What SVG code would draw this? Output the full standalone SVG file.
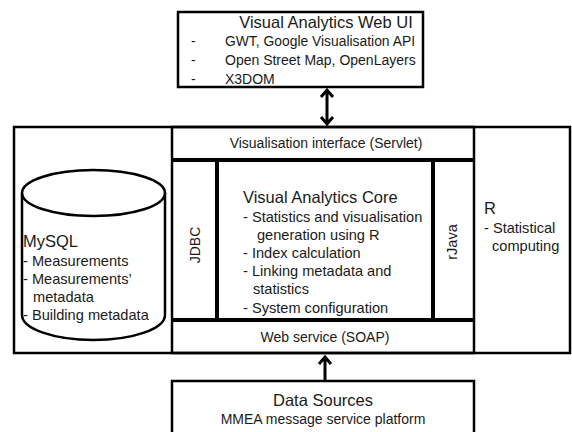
<svg xmlns="http://www.w3.org/2000/svg" width="572" height="432" viewBox="0 0 572 432">
<style>
text{font-family:"Liberation Sans",Arial,sans-serif;fill:#1a1a1a}
.box{fill:#fff;stroke:#000;stroke-width:2.5}
.thin{fill:none;stroke:#000;stroke-width:2.5}
.thick{fill:none;stroke:#000;stroke-width:4}
.arr{fill:none;stroke:#000;stroke-width:3;stroke-linecap:butt}
.t14{font-size:14px}
.t15{font-size:14.6px}
.t16{font-size:16.5px}
</style>
<g id="outer">
<rect class="box" x="14" y="127" width="556" height="226"/>
</g>
<g id="web-ui">
<rect class="box" x="178" y="12" width="245" height="75"/>
<text class="t16" x="326" y="28" text-anchor="middle">Visual Analytics Web UI</text>
<text class="t14" x="191" y="46">-</text><text class="t14" x="225" y="46" textLength="190" lengthAdjust="spacingAndGlyphs">GWT, Google Visualisation API</text>
<text class="t14" x="191" y="65">-</text><text class="t14" x="225" y="65">Open Street Map, OpenLayers</text>
<text class="t14" x="191" y="84">-</text><text class="t14" x="225" y="84">X3DOM</text>
</g>
<g id="mysql">
<path class="thin" d="M22,193 V315 A71.5,25 0 0 0 165,315 V193"/>
<ellipse class="thin" cx="93.5" cy="193" rx="71.5" ry="23"/>
<text class="t16" x="23" y="247">MySQL</text>
<text class="t15" x="23" y="266">- Measurements</text>
<text class="t15" x="23" y="284">- Measurements’</text>
<text class="t15" x="33" y="302">metadata</text>
<text class="t15" x="23" y="320">- Building metadata</text>
</g>
<g id="middle">
<rect class="thin" x="172" y="127" width="302" height="226"/>
</g>
<g id="servlet">
<text class="t14" x="326" y="148" text-anchor="middle">Visualisation interface (Servlet)</text>
</g>
<g id="core">
<path class="thick" d="M172,160 H474 M172,320 H474 M217,160 V320 M433,160 V320"/>
<text class="t16" x="243" y="203">Visual Analytics Core</text>
<text class="t15" x="243" y="222">-  Statistics and visualisation</text>
<text class="t15" x="257" y="240">generation using R</text>
<text class="t15" x="243" y="258">-  Index calculation</text>
<text class="t15" x="243" y="276">-  Linking metadata and</text>
<text class="t15" x="253" y="294">statistics</text>
<text class="t15" x="243" y="313">- System configuration</text>
</g>
<g id="jdbc">
<text class="t14" transform="translate(200,245) rotate(-90)" text-anchor="middle">JDBC</text>
</g>
<g id="rjava">
<text class="t15" transform="translate(457,242) rotate(-90)" text-anchor="middle">rJava</text>
</g>
<g id="webservice">
<text class="t14" x="325" y="342" text-anchor="middle">Web service (SOAP)</text>
</g>
<g id="r">
<text class="t16" x="484" y="214">R</text>
<text class="t15" x="484" y="233">- Statistical</text>
<text class="t15" x="492" y="251">computing</text>
</g>
<g id="datasources">
<rect class="box" x="172" y="381" width="302" height="60"/>
<text class="t16" x="323" y="406" text-anchor="middle">Data Sources</text>
<text class="t14" x="323" y="424" text-anchor="middle">MMEA message service platform</text>
</g>
<g id="connectors">
<path class="arr" d="M327,90 V124 M321,97 L327,90 L333,97 M321,117 L327,124 L333,117"/>
<path class="arr" d="M325,357 V381 M319,364 L325,357 L331,364"/>
</g>
</svg>
